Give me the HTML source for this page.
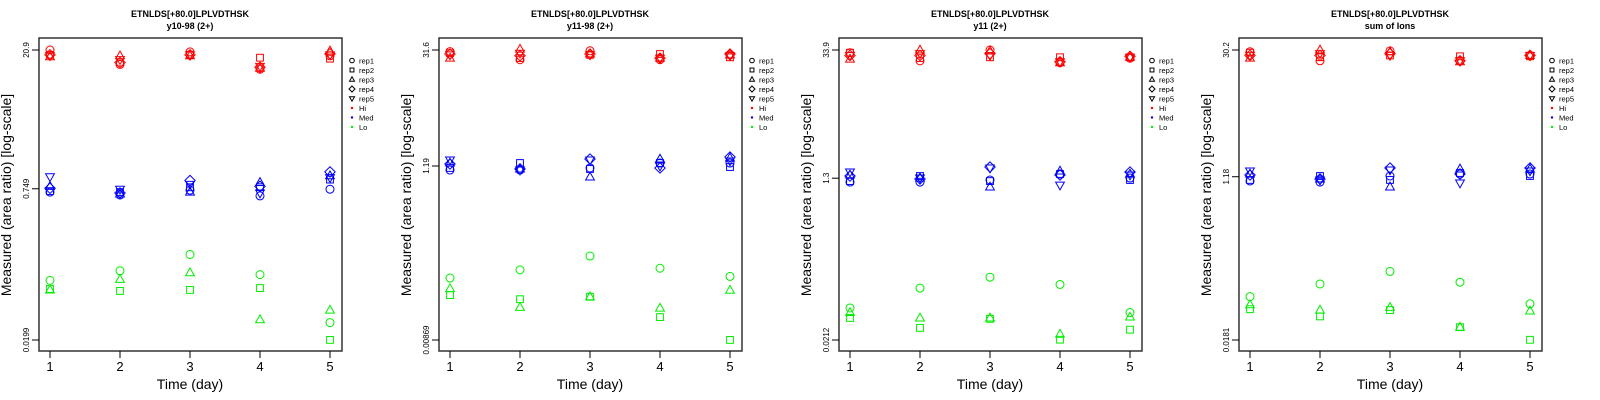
<!DOCTYPE html>
<html><head><meta charset="utf-8">
<style>
html,body{margin:0;padding:0;background:#fff;}
svg{display:block;font-family:"Liberation Sans",sans-serif;}
</style></head>
<body>
<svg id="root" width="1600" height="400" viewBox="0 0 1600 400"></svg>
<script>
// ---- data (log10 of measured area ratio), arrays indexed [rep][day] ----
const days = [1, 2, 3, 4, 5];
const repNames = ["rep1", "rep2", "rep3", "rep4", "rep5"];
const levelNames = ["Hi", "Med", "Lo"];
const panelTitles = ["y10-98 (2+)", "y11-98 (2+)", "y11 (2+)", "sum of Ions"];
const mainTitle = "ETNLDS[+80.0]LPLVDTHSK";
const yTickLabels = [["0.0199", "0.749", "20.9"], ["0.00869", "1.19", "31.6"], ["0.0212", "1.3", "33.9"], ["0.0181", "1.18", "30.2"]];

const p1Hi = [[1.32,1.17,1.30,1.12,1.26],[1.27,1.19,1.27,1.24,1.23],[1.25,1.26,1.26,1.13,1.31],[1.27,1.19,1.27,1.14,1.28],[1.26,1.22,1.27,1.15,1.27]];
const p1Med = [[-0.16,-0.19,-0.14,-0.20,-0.13],[-0.15,-0.16,-0.11,-0.11,-0.03],[-0.10,-0.18,-0.16,-0.06,0.01],[-0.12,-0.17,-0.04,-0.10,0.05],[0.00,-0.13,-0.08,-0.17,-0.01]];
const p1Lo = [[-1.08,-0.98,-0.81,-1.02,-1.52],[-1.17,-1.19,-1.18,-1.16,-1.70],[-1.18,-1.07,-1.00,-1.49,-1.39]];

const p2Hi = [[1.48,1.38,1.49,1.38,1.44],[1.46,1.40,1.44,1.45,1.41],[1.40,1.51,1.45,1.40,1.44],[1.45,1.43,1.45,1.40,1.45],[1.44,1.46,1.44,1.40,1.43]];
const p2Med = [[0.026,0.026,0.051,0.112,0.112],[0.051,0.112,0.039,0.112,0.063],[0.112,0.039,-0.06,0.161,0.174],[0.10,0.039,0.161,0.051,0.186],[0.149,0.026,0.149,0.075,0.137]];
const p2Lo = [[-1.30,-1.20,-1.03,-1.18,-1.28],[-1.51,-1.56,-1.53,-1.78,-2.06],[-1.43,-1.66,-1.53,-1.67,-1.45]];

const p3Hi = [[1.50,1.41,1.53,1.39,1.44],[1.50,1.44,1.45,1.45,1.45],[1.43,1.53,1.52,1.39,1.45],[1.47,1.47,1.49,1.40,1.46],[1.47,1.49,1.47,1.40,1.45]];
const p3Med = [[0.071,0.071,0.094,0.160,0.116],[0.082,0.138,0.082,0.160,0.094],[0.149,0.116,0.016,0.193,0.160],[0.138,0.105,0.237,0.149,0.182],[0.182,0.116,0.226,0.038,0.149]];
const p3Lo = [[-1.32,-1.10,-0.98,-1.06,-1.37],[-1.43,-1.54,-1.44,-1.67,-1.56],[-1.37,-1.43,-1.43,-1.61,-1.42]];

const p4Hi = [[1.46,1.36,1.47,1.36,1.42],[1.45,1.40,1.42,1.41,1.41],[1.39,1.48,1.46,1.35,1.42],[1.42,1.42,1.44,1.36,1.42],[1.42,1.44,1.42,1.36,1.42]];
const p4Med = [[0.025,0.013,0.080,0.102,0.102],[0.036,0.080,0.036,0.113,0.080],[0.102,0.047,-0.042,0.158,0.158],[0.091,0.047,0.169,0.102,0.169],[0.136,0.036,0.147,0.002,0.136]];
const p4Lo = [[-1.26,-1.12,-0.98,-1.10,-1.34],[-1.40,-1.48,-1.41,-1.60,-1.74],[-1.35,-1.41,-1.38,-1.60,-1.42]];

const panelData = [[p1Hi,p1Med,p1Lo],[p2Hi,p2Med,p2Lo],[p3Hi,p3Med,p3Lo],[p4Hi,p4Med,p4Lo]];

// ---- drawing ----
const NS = "http://www.w3.org/2000/svg";
const root = document.getElementById("root");
const colors = ["#ff0000", "#0000ff", "#00ee00"];
function mk(tag, attrs, parent) {
  const e = document.createElementNS(NS, tag);
  for (const k in attrs) e.setAttribute(k, attrs[k]);
  parent.appendChild(e);
  return e;
}
function marker(parent, rep, cx, cy, col, r) {
  let e;
  if (rep === 0) e = mk("circle", {cx: cx, cy: cy, r: r}, parent);
  else if (rep === 1) e = mk("rect", {x: cx - r*0.85, y: cy - r*0.85, width: r*1.7, height: r*1.7}, parent);
  else if (rep === 2) e = mk("polygon", {points: `${cx},${cy - r*1.2} ${cx - r*1.1},${cy + r*0.75} ${cx + r*1.1},${cy + r*0.75}`}, parent);
  else if (rep === 3) e = mk("polygon", {points: `${cx},${cy - r*1.3} ${cx + r*1.3},${cy} ${cx},${cy + r*1.3} ${cx - r*1.3},${cy}`}, parent);
  else e = mk("polygon", {points: `${cx},${cy + r*1.2} ${cx - r*1.1},${cy - r*0.75} ${cx + r*1.1},${cy - r*0.75}`}, parent);
  e.setAttribute("fill", "none");
  e.setAttribute("stroke", col);
  e.setAttribute("stroke-width", "1");
  return e;
}

panelData.forEach((pd, pi) => {
  const ox = pi * 400;
  const g = mk("g", {transform: `translate(${ox},0)`}, root);
  
  
  const left = 39, right = 342, top = 38, bottom = 351;
  const yTopPx = 50, yBotPx = 340;
  const ticks = yTickLabels[pi];
  const lmin = Math.log10(parseFloat(ticks[0])), lmax = Math.log10(parseFloat(ticks[2]));
  const yScale = v => yBotPx - (v - lmin) / (lmax - lmin) * (yBotPx - yTopPx);
  const xScale = d => 50 + (d - 1) * 70;

  const t1 = mk("text", {x: 190, y: 17, "text-anchor": "middle", "font-size": 9, "font-weight": "bold", fill: "#000"}, g);
  t1.textContent = mainTitle;
  
  
  const t2 = mk("text", {x: 190, y: 29, "text-anchor": "middle", "font-size": 9, "font-weight": "bold", fill: "#000"}, g);
  t2.textContent = panelTitles[pi];
  
  

  const box = mk("rect", {x: left, y: top, width: right - left, height: bottom - top, fill: "none", stroke: "#333", "stroke-width": 1.5}, g);
  
  

  days.forEach(d => {
    const x = xScale(d);
    const tk = mk("line", {x1: x, x2: x, y1: bottom, y2: bottom + 7, stroke: "#000"}, g);
    
    
    const tl = mk("text", {x: x, y: 371, "text-anchor": "middle", "font-size": 13, fill: "#000"}, g);
    tl.textContent = d;
    
    
  });
  ticks.forEach(lbl => {
    const y = yScale(Math.log10(parseFloat(lbl)));
    const tk = mk("line", {x1: left - 7, x2: left, y1: y, y2: y, stroke: "#000"}, g);
    
    
    const tl = mk("text", {x: 0, y: 0, "text-anchor": "middle", "font-size": 8, fill: "#000", transform: `translate(29,${y}) rotate(-90)`}, g);
    tl.textContent = lbl;
    
    
  });
  const xt = mk("text", {x: 190, y: 389, "text-anchor": "middle", "font-size": 14, fill: "#000"}, g);
  xt.textContent = "Time (day)";
  
  
  const yt = mk("text", {x: 0, y: 0, "text-anchor": "middle", "font-size": 14, fill: "#000", transform: "translate(11,195) rotate(-90)"}, g);
  yt.textContent = "Measured (area ratio) [log-scale]";
  
  

  pd.forEach((levelArr, li) => {
    levelArr.forEach((repVals, ri) => {
      repVals.forEach((v, di) => {
        const m = marker(g, ri, xScale(days[di]), yScale(v), colors[li], 4);
        
        
      });
    });
  });

  // legend
  const lg = mk("g", {}, g);
  
  
  repNames.forEach((nm, i) => {
    const y = 60.5 + i * 9.5;
    const m = marker(lg, i, 352, y, "#000", 2.3);
    
    
    const t = mk("text", {x: 359, y: y + 3, "font-size": 7.5, fill: "#000"}, lg);
    t.textContent = nm;
    
    
  });
  levelNames.forEach((nm, i) => {
    const y = 108 + i * 9.5;
    const c = mk("circle", {cx: 352, cy: y, r: 1.2, fill: colors[i]}, lg);
    
    
    const t = mk("text", {x: 359, y: y + 3, "font-size": 7.5, fill: "#000"}, lg);
    t.textContent = nm;
    
    
  });
});
</script>
</body></html>
